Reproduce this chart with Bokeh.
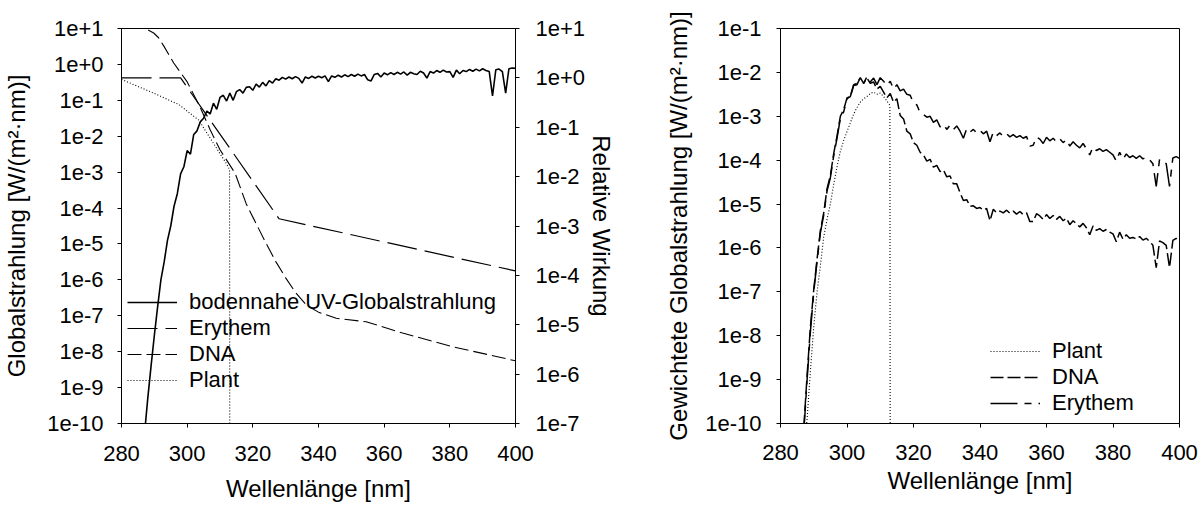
from bokeh.plotting import figure
from bokeh.models import (Range1d, LogScale, LogAxis, FixedTicker, CustomJSTickFormatter,
                          Legend, LegendItem)
from bokeh.layouts import row
from bokeh.embed import file_html
from bokeh.resources import INLINE

FONT = "Liberation Sans"

# ---------------- data ----------------
# wavelength grid of the spectra [nm]
wl_nm = list(range(287, 401))

# ground-level global UV irradiance, log10 of W/(m2 nm), 287..400 nm (rows of 10)
global_log10 = [
    -10.3, -9.3, -8.4, -7.55, -6.75, -6.0, -5.5, -4.9, -4.5, -3.95,
    -3.6, -3.05, -2.85, -2.4, -2.5, -1.95, -1.85, -1.6, -1.5, -1.3,
    -1.38, -1.08, -1.25, -0.92, -0.86, -1.02, -0.8, -1.0, -0.76, -0.7,
    -0.8, -0.64, -0.62, -0.72, -0.55, -0.63, -0.5, -0.6, -0.45, -0.52,
    -0.4, -0.44, -0.36, -0.41, -0.35, -0.4, -0.34, -0.39, -0.52, -0.35,
    -0.39, -0.33, -0.38, -0.33, -0.37, -0.32, -0.48, -0.32, -0.36, -0.3,
    -0.35, -0.29, -0.34, -0.28, -0.33, -0.27, -0.32, -0.28, -0.43, -0.46,
    -0.28, -0.25, -0.35, -0.24, -0.29, -0.23, -0.28, -0.22, -0.27, -0.21,
    -0.3, -0.22, -0.26, -0.28, -0.19, -0.24, -0.38, -0.2, -0.24, -0.17,
    -0.22, -0.16, -0.21, -0.2, -0.36, -0.16, -0.26, -0.17, -0.2, -0.14,
    -0.19, -0.13, -0.18, -0.12, -0.17, -0.2, -0.88, -0.15, -0.13, -0.2,
    -0.8, -0.12, -0.1, -0.11,
]

# relative action spectra (right axis of left chart)
erythem_wl = [280, 298, 328, 400]
erythem_rel = [1.0, 1.0, 1.4e-3, 1.23e-4]

dna_wl = [283, 286, 288, 289.8, 291.3, 292.9, 295.9, 299.9, 303.9, 307, 310, 314.6,
          318, 321, 324, 327, 330, 333, 336.3, 340, 345.4, 354.5, 365.6, 380.8, 400]
dna_rel = [14, 10.5, 9.4, 8.1, 6.5, 4.4, 2.0, 0.85, 0.26, 0.089, 0.035, 0.0117,
           2.8e-3, 1.12e-3, 4.5e-4, 1.9e-4, 8.9e-5, 4.5e-5, 2.5e-5, 1.8e-5, 1.35e-5,
           1.15e-5, 6.8e-6, 3.6e-6, 1.86e-6]

plant_wl = [280, 289.8, 297.4, 303.5, 311.8, 312.9, 313.0]
plant_rel = [0.93, 0.49, 0.29, 0.14, 0.019, 0.014, 1e-9]

# weighted global irradiance (right chart), log10 of W/(m2 nm), 287..400 nm (rows of 10)
erythem_w_log10 = [
    -10.2, -9.0, -7.9, -7.0, -6.3, -5.65, -5.25, -4.7, -4.4, -3.9,
    -3.5, -3.05, -2.9, -2.6, -2.55, -2.3, -2.28, -2.12, -2.25, -2.1,
    -2.22, -2.13, -2.28, -2.12, -2.2, -2.3, -2.2, -2.38, -2.28, -2.42,
    -2.38, -2.5, -2.52, -2.7, -2.74, -2.92, -2.96, -3.02, -3.0, -3.14,
    -3.08, -3.24, -3.18, -3.3, -3.2, -3.3, -3.22, -3.34, -3.5, -3.28,
    -3.36, -3.3, -3.38, -3.32, -3.4, -3.34, -3.58, -3.36, -3.44, -3.38,
    -3.46, -3.4, -3.47, -3.42, -3.48, -3.44, -3.5, -3.46, -3.68, -3.66,
    -3.47, -3.52, -3.62, -3.48, -3.56, -3.5, -3.58, -3.51, -3.6, -3.53,
    -3.68, -3.58, -3.66, -3.72, -3.62, -3.74, -3.88, -3.7, -3.78, -3.74,
    -3.8, -3.76, -3.82, -3.88, -4.02, -3.82, -3.98, -3.86, -3.94, -3.9,
    -3.96, -3.9, -3.97, -3.93, -3.99, -4.08, -4.6, -3.98, -4.02, -4.08,
    -4.6, -3.95, -3.92, -3.96,
]
dna_w_log10 = [
    -10.1, -8.9, -7.8, -6.95, -6.25, -5.6, -5.2, -4.65, -4.35, -3.85,
    -3.45, -3.0, -2.85, -2.58, -2.55, -2.28, -2.25, -2.12, -2.25, -2.13,
    -2.25, -2.22, -2.38, -2.32, -2.45, -2.58, -2.48, -2.68, -2.6, -2.98,
    -3.06, -3.34, -3.4, -3.6, -3.66, -3.82, -3.88, -4.02, -3.98, -4.16,
    -4.12, -4.26, -4.22, -4.38, -4.36, -4.54, -4.54, -4.74, -4.92, -4.9,
    -5.05, -5.04, -5.1, -5.08, -5.14, -5.1, -5.38, -5.12, -5.2, -5.16,
    -5.2, -5.14, -5.21, -5.16, -5.23, -5.17, -5.24, -5.2, -5.4, -5.4,
    -5.22, -5.27, -5.35, -5.24, -5.33, -5.26, -5.35, -5.28, -5.38, -5.32,
    -5.47, -5.38, -5.45, -5.52, -5.44, -5.54, -5.7, -5.5, -5.6, -5.56,
    -5.62, -5.58, -5.64, -5.68, -5.86, -5.64, -5.8, -5.7, -5.78, -5.76,
    -5.8, -5.74, -5.82, -5.78, -5.85, -5.94, -6.45, -5.84, -5.88, -5.94,
    -6.45, -5.83, -5.78, -5.84,
]
plant_w_wl = [287, 288, 289, 290, 291, 292, 293, 294, 295, 296, 297, 298, 299, 300,
              301, 302, 303, 304, 305, 306, 307, 308, 309, 310, 311, 312, 312.9, 313.0]
plant_w_log10 = [-10.6, -9.9, -8.8, -7.8, -7.0, -6.4, -5.75, -5.35, -5.0, -4.55,
                 -4.15, -3.8, -3.55, -3.35, -3.15, -2.95, -2.8, -2.68, -2.6, -2.55,
                 -2.48, -2.45, -2.5, -2.47, -2.55, -2.65, -2.75, -12.0]

# axis ticks and labels
x_ticks = [280, 300, 320, 340, 360, 380, 400]
left_exps = [1, 0, -1, -2, -3, -4, -5, -6, -7, -8, -9, -10]
left_labels = ["1e+1", "1e+0", "1e-1", "1e-2", "1e-3", "1e-4", "1e-5", "1e-6",
               "1e-7", "1e-8", "1e-9", "1e-10"]
rel_exps = [1, 0, -1, -2, -3, -4, -5, -6, -7]
rel_labels = ["1e+1", "1e+0", "1e-1", "1e-2", "1e-3", "1e-4", "1e-5", "1e-6", "1e-7"]
right_exps = [-1, -2, -3, -4, -5, -6, -7, -8, -9, -10]
right_labels = ["1e-1", "1e-2", "1e-3", "1e-4", "1e-5", "1e-6", "1e-7", "1e-8",
                "1e-9", "1e-10"]

global_vals = [10 ** v for v in global_log10]
erythem_w = [10 ** v for v in erythem_w_log10]
dna_w = [10 ** v for v in dna_w_log10]
plant_w = [10 ** v for v in plant_w_log10]

FMT_CODE = """
const e = Math.round(Math.log10(tick));
const i = exps.indexOf(e);
return i >= 0 ? labels[i] : "";
"""


def log_formatter(exps, labels):
    return CustomJSTickFormatter(args=dict(exps=exps, labels=labels), code=FMT_CODE)


def style_axis(ax, label_standoff, title_standoff):
    ax.axis_line_color = "black"
    ax.axis_line_width = 1
    ax.major_tick_line_color = "black"
    ax.major_tick_in = 0
    ax.major_tick_out = 4
    ax.minor_tick_line_color = None
    ax.major_label_text_font = FONT
    ax.major_label_text_font_size = "22px"
    ax.major_label_text_color = "black"
    ax.axis_label_text_font = FONT
    ax.axis_label_text_font_size = "24px"
    ax.axis_label_text_font_style = "normal"
    ax.axis_label_text_color = "black"
    ax.major_label_standoff = label_standoff
    ax.axis_label_standoff = title_standoff


def style_legend(lg, loc):
    lg.location = loc
    lg.label_text_font = FONT
    lg.label_text_font_size = "22px"
    lg.label_text_color = "black"
    lg.glyph_width = 50
    lg.glyph_height = 26
    lg.label_height = 26
    lg.label_standoff = 12
    lg.spacing = 0
    lg.padding = 0
    lg.margin = 0
    lg.border_line_color = None
    lg.background_fill_alpha = 0


# ---------------- left chart ----------------
p1 = figure(width=618, height=505, x_range=Range1d(280, 400), y_range=Range1d(1e-10, 10),
            y_axis_type="log", output_backend="svg", toolbar_location=None,
            min_border_left=121, min_border_right=101, min_border_top=27, min_border_bottom=82)
p1.extra_y_ranges = {"rel": Range1d(1e-7, 10)}
p1.extra_y_scales = {"rel": LogScale()}
p1.grid.visible = False
p1.outline_line_color = "black"
p1.background_fill_color = "white"
p1.border_fill_color = "white"

p1.xaxis.ticker = FixedTicker(ticks=x_ticks)
p1.xaxis.axis_label = "Wellenlänge [nm]"
style_axis(p1.xaxis[0], 18, 11)
p1.yaxis.ticker = FixedTicker(ticks=[10.0 ** e for e in left_exps])
p1.yaxis.formatter = log_formatter(left_exps, left_labels)
p1.yaxis.axis_label = "Globalstrahlung [W/(m²·nm)]"
style_axis(p1.yaxis[0], 14, 14)

rax = LogAxis(y_range_name="rel", ticker=FixedTicker(ticks=[10.0 ** e for e in rel_exps]),
              formatter=log_formatter(rel_exps, rel_labels), axis_label="Relative Wirkung")
style_axis(rax, 16, 0)
p1.add_layout(rax, "right")

r_glob = p1.line(wl_nm, global_vals, line_color="black", line_width=1.6)
r_ery = p1.line(erythem_wl, erythem_rel, y_range_name="rel", line_color="black",
                line_width=1.2, line_dash="30 8")
r_dna = p1.line(dna_wl, dna_rel, y_range_name="rel", line_color="black",
                line_width=1.1, line_dash="14 5")
r_pla = p1.line(plant_wl, plant_rel, y_range_name="rel", line_color="black",
                line_width=1.1, line_dash="1 2")

lg1 = Legend(items=[
    LegendItem(label="bodennahe UV-Globalstrahlung", renderers=[r_glob]),
    LegendItem(label="Erythem", renderers=[r_ery]),
    LegendItem(label="DNA", renderers=[r_dna]),
    LegendItem(label="Plant", renderers=[r_pla]),
])
style_legend(lg1, (6, 30))
p1.add_layout(lg1)

# ---------------- right chart ----------------
p2 = figure(width=586, height=505, x_range=Range1d(280, 400), y_range=Range1d(1e-10, 1e-1),
            y_axis_type="log", output_backend="svg", toolbar_location=None,
            min_border_left=162, min_border_right=25, min_border_top=28, min_border_bottom=78)
p2.grid.visible = False
p2.outline_line_color = "black"
p2.background_fill_color = "white"
p2.border_fill_color = "white"

p2.xaxis.ticker = FixedTicker(ticks=x_ticks)
p2.xaxis.axis_label = "Wellenlänge [nm]"
style_axis(p2.xaxis[0], 17, 4)
p2.yaxis.ticker = FixedTicker(ticks=[10.0 ** e for e in right_exps])
p2.yaxis.formatter = log_formatter(right_exps, right_labels)
p2.yaxis.axis_label = "Gewichtete Globalstrahlung [W/(m²·nm)]"
style_axis(p2.yaxis[0], 15, 10)

w_pla = p2.line(plant_w_wl, plant_w, line_color="black", line_width=1.1, line_dash="1 2")
w_dna = p2.line(wl_nm, dna_w, line_color="black", line_width=1.5, line_dash="13 4")
w_ery = p2.line(wl_nm, erythem_w, line_color="black", line_width=1.5, line_dash="27 7 7 7")

lg2 = Legend(items=[
    LegendItem(label="Plant", renderers=[w_pla]),
    LegendItem(label="DNA", renderers=[w_dna]),
    LegendItem(label="Erythem", renderers=[w_ery]),
])
style_legend(lg2, (210, 7))
p2.add_layout(lg2)

layout = row(p1, p2)
open("out.html", "w").write(file_html(layout, INLINE))
